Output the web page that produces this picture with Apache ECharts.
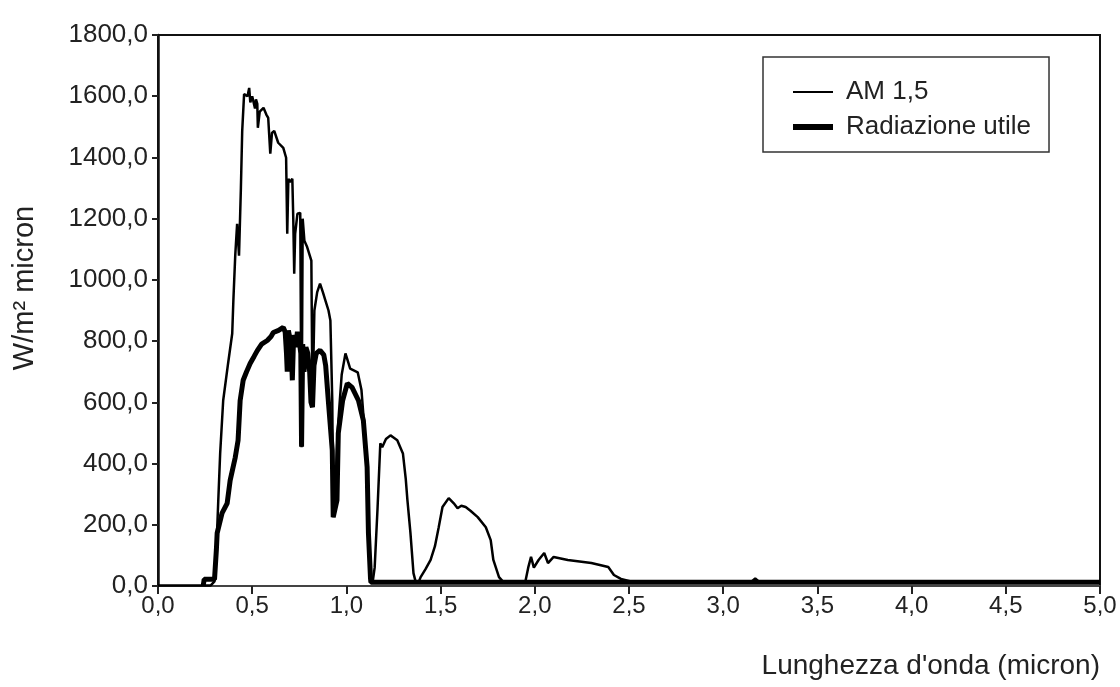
<!DOCTYPE html>
<html>
<head>
<meta charset="utf-8">
<script src="https://cdn.jsdelivr.net/npm/echarts@6/dist/echarts.min.js"></script>
<style>
html,body{margin:0;padding:0;background:#fff;}
#chart{width:1120px;height:687px;}
</style>
</head>
<body>
<div id="chart"></div>
<script>
// AM 1,5 spectrum (wavelength in micron, W/m2 micron)
const amWavelength = [0.0,0.28,0.30,0.31,0.32,0.33,0.346,0.372,0.394,0.40,0.41,0.42,0.43,0.44,0.447,0.457,0.475,0.484,0.49,0.50,0.515,0.52,0.527,0.53,0.54,0.56,0.575,0.585,0.596,0.605,0.617,0.638,0.665,0.68,0.686,0.692,0.70,0.713,0.718,0.723,0.728,0.74,0.755,0.762,0.768,0.777,0.79,0.80,0.814,0.82,0.83,0.845,0.86,0.875,0.89,0.905,0.915,0.925,0.93,0.94,0.955,0.975,0.995,1.005,1.02,1.06,1.08,1.095,1.11,1.117,1.128,1.14,1.15,1.165,1.18,1.19,1.21,1.234,1.25,1.27,1.30,1.315,1.324,1.34,1.356,1.367,1.385,1.394,1.42,1.447,1.47,1.49,1.51,1.543,1.57,1.59,1.61,1.633,1.66,1.697,1.74,1.766,1.78,1.81,1.83,1.95,1.965,1.98,1.995,2.02,2.05,2.07,2.10,2.175,2.30,2.39,2.42,2.457,2.51,3.0,3.15,3.17,3.19,3.5,5.0];
const amValues = [2,2,15,120,280,434,606,727,825,932,1080,1183,1079,1300,1487,1607,1600,1627,1580,1600,1560,1590,1575,1497,1550,1562,1540,1529,1412,1480,1487,1448,1431,1399,1151,1330,1320,1330,1200,1020,1150,1216,1219,453,1200,1128,1110,1105,1063,590,900,960,988,960,930,900,867,606,225,300,520,690,760,740,710,698,640,520,380,173,20,15,60,250,466,453,480,492,485,476,433,350,280,173,42,15,15,29,55,85,130,192,258,287,270,254,262,258,245,225,192,150,85,29,15,15,60,95,60,85,108,75,95,85,75,62,36,23,15,12,14,25,14,12,12];

// Radiazione utile
const utileWavelength = [0.24,0.245,0.30,0.31,0.314,0.34,0.367,0.383,0.41,0.425,0.436,0.452,0.47,0.489,0.51,0.527,0.55,0.58,0.60,0.612,0.64,0.665,0.675,0.682,0.686,0.692,0.70,0.708,0.713,0.72,0.73,0.74,0.75,0.758,0.762,0.768,0.775,0.785,0.795,0.805,0.812,0.82,0.828,0.84,0.86,0.88,0.89,0.904,0.925,0.93,0.95,0.957,0.98,1.005,1.03,1.064,1.09,1.11,1.117,1.128,1.13,5.0];
const utileValues = [0,22,22,120,173,238,270,345,420,476,606,672,700,727,750,769,790,802,815,828,835,845,830,760,700,835,810,760,672,820,780,830,800,760,455,790,700,780,760,700,600,584,720,760,770,755,720,606,443,225,280,499,606,662,649,606,541,388,173,25,12,12];

const seriesNames = ['AM 1,5', 'Radiazione utile'];
const xAxisTitle = "Lunghezza d'onda (micron)";
const yAxisTitle = 'W/m² micron';

const FONT = '"Liberation Sans", Arial, sans-serif';
const fmt = v => v.toFixed(1).replace('.', ',');

const chart = echarts.init(document.getElementById('chart'), null, {renderer: 'canvas'});
chart.setOption({
  backgroundColor: '#fff',
  animation: false,
  grid: {left: 158, right: 20, top: 35, bottom: 101, show: true, borderColor: '#111', borderWidth: 2, backgroundColor: 'transparent'},
  legend: {
    left: 763, top: 57,
    orient: 'vertical',
    data: [
      {name: seriesNames[0], icon: 'path://M0,0L40,0L40,2L0,2Z'},
      {name: seriesNames[1], icon: 'path://M0,0L40,0L40,6L0,6Z'}
    ],
    itemWidth: 40, itemHeight: 14, itemGap: 9,
    padding: [22, 18, 12, 30],
    borderColor: '#333', borderWidth: 1.5,
    textStyle: {fontFamily: FONT, fontSize: 26, color: '#222', lineHeight: 26, padding: [0, 0, 0, 8]}
  },
  xAxis: {
    type: 'value', min: 0, max: 5, interval: 0.5,
    axisLine: {show: true, lineStyle: {color: '#555', width: 1.5}},
    axisTick: {show: true, length: 8, lineStyle: {color: '#222', width: 2}},
    axisLabel: {fontFamily: FONT, fontSize: 24, color: '#222', margin: 8, formatter: fmt},
    splitLine: {show: false}
  },
  yAxis: {
    type: 'value', min: 0, max: 1800, interval: 200,
    axisLine: {show: true, lineStyle: {color: '#111', width: 2.5}},
    axisTick: {show: true, length: 6, lineStyle: {color: '#222', width: 2}},
    axisLabel: {fontFamily: FONT, fontSize: 26, color: '#222', margin: 10, formatter: fmt},
    splitLine: {show: false}
  },
  graphic: [
    {type: 'text', x: 1100, y: 666, style: {text: xAxisTitle, font: '28px ' + FONT, fill: '#222', textAlign: 'right', textVerticalAlign: 'middle'}},
    {type: 'text', x: 25, y: 288, rotation: Math.PI / 2, style: {text: yAxisTitle, font: '29px ' + FONT, fill: '#222', textAlign: 'center', textVerticalAlign: 'middle'}}
  ],
  series: [
    {
      name: seriesNames[1], type: 'line', showSymbol: false, symbol: 'none',
      lineStyle: {color: '#000', width: 5}, itemStyle: {color: '#000'},
      data: utileWavelength.map((w, i) => [w, utileValues[i]])
    },
    {
      name: seriesNames[0], type: 'line', showSymbol: false, symbol: 'none',
      lineStyle: {color: '#000', width: 2.5}, itemStyle: {color: '#000'},
      data: amWavelength.map((w, i) => [w, amValues[i]])
    }
  ]
});
</script>
</body>
</html>
